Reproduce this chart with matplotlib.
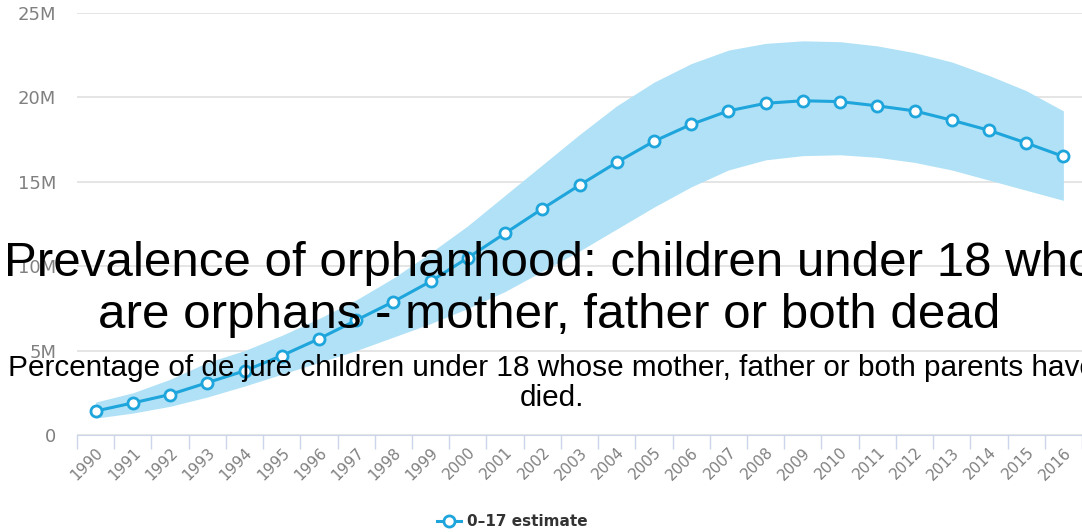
import numpy as np
import matplotlib
matplotlib.use('Agg')
import matplotlib.pyplot as plt
from matplotlib.ticker import FixedLocator, FuncFormatter

# data (millions)
years = list(range(1990, 2017))
estimate = [1.42, 1.9, 2.4, 3.1, 3.8, 4.7, 5.7, 6.8, 7.9, 9.1, 10.5, 11.95, 13.4,
            14.8, 16.15, 17.4, 18.4, 19.2, 19.65, 19.8, 19.75, 19.5, 19.2, 18.65,
            18.05, 17.3, 16.5]
upper = [1.95, 2.5, 3.3, 4.3, 5.0, 5.9, 6.9, 8.0, 9.3, 10.8, 12.4, 14.2, 16.0,
         17.8, 19.5, 20.9, 22.0, 22.8, 23.2, 23.35, 23.3, 23.05, 22.65, 22.1,
         21.3, 20.4, 19.2]
lower = [1.0, 1.3, 1.7, 2.25, 2.9, 3.6, 4.3, 5.0, 5.8, 6.6, 7.5, 8.5, 9.7,
         10.9, 12.2, 13.5, 14.7, 15.7, 16.3, 16.55, 16.6, 16.45, 16.15, 15.7,
         15.1, 14.5, 13.9]
yticks = [0, 5, 10, 15, 20, 25]

title = 'Prevalence of orphanhood: children under 18 who\nare orphans - mother, father or both dead'
subtitle = ('Percentage of de jure children under 18 whose mother, father or both parents have\n'
            'died.')

blue = '#1ea5dc'
band = '#b0e1f6'
grey = '#808080'

fig = plt.figure(figsize=(10.82, 5.32), dpi=100)
ax = fig.add_axes([0.0712, 0.1823, 0.9288, 0.7933])

x = np.arange(len(years))
ax.fill_between(x, lower, upper, color=band, lw=0, zorder=1)
ax.plot(x, estimate, color=blue, lw=2.2, marker='o', ms=8, mfc='white',
        mec=blue, mew=2, zorder=3, label='0–17 estimate')

ax.set_xlim(-0.5, len(years) - 0.5)
ax.set_ylim(0, 25)
ax.yaxis.set_major_locator(FixedLocator(yticks))
ax.yaxis.set_major_formatter(FuncFormatter(lambda v, p: '0' if v == 0 else '%dM' % v))
ax.grid(axis='y', color='#e0e0e0', lw=1.2)
ax.set_axisbelow(True)
for s in ['top', 'right', 'left']:
    ax.spines[s].set_visible(False)
ax.spines['bottom'].set_color('#ccd6eb')
ax.tick_params(axis='y', length=0, pad=15, labelsize=13, labelcolor=grey)

# ticks on category boundaries, labels at centres
ax.set_xticks(np.arange(len(years) + 1) - 0.5)
ax.set_xticklabels([])
ax.tick_params(axis='x', which='major', length=10, color='#ccd6eb', width=1)
ax.set_xticks(x, minor=True)
ax.set_xticklabels([str(y) for y in years], minor=True, rotation=45,
                   ha='right', rotation_mode='anchor', fontsize=11, color=grey)
ax.tick_params(axis='x', which='minor', length=0, pad=7)

leg = ax.legend(loc='center', bbox_to_anchor=(0.433, -0.205), frameon=False,
                prop={'weight': 'bold', 'size': 11}, handlelength=1.6,
                handletextpad=0.4)
for t in leg.get_texts():
    t.set_color('#333333')

fig.text(0.508, 0.455, title, ha='center', va='center', fontsize=35.5,
         family='Liberation Sans', color='black', linespacing=1.2, zorder=10)
fig.text(0.51, 0.28, subtitle, ha='center', va='center', fontsize=21.4,
         family='Liberation Sans', color='black', linespacing=1.12, zorder=10)

fig.savefig('out.png', dpi=100)
